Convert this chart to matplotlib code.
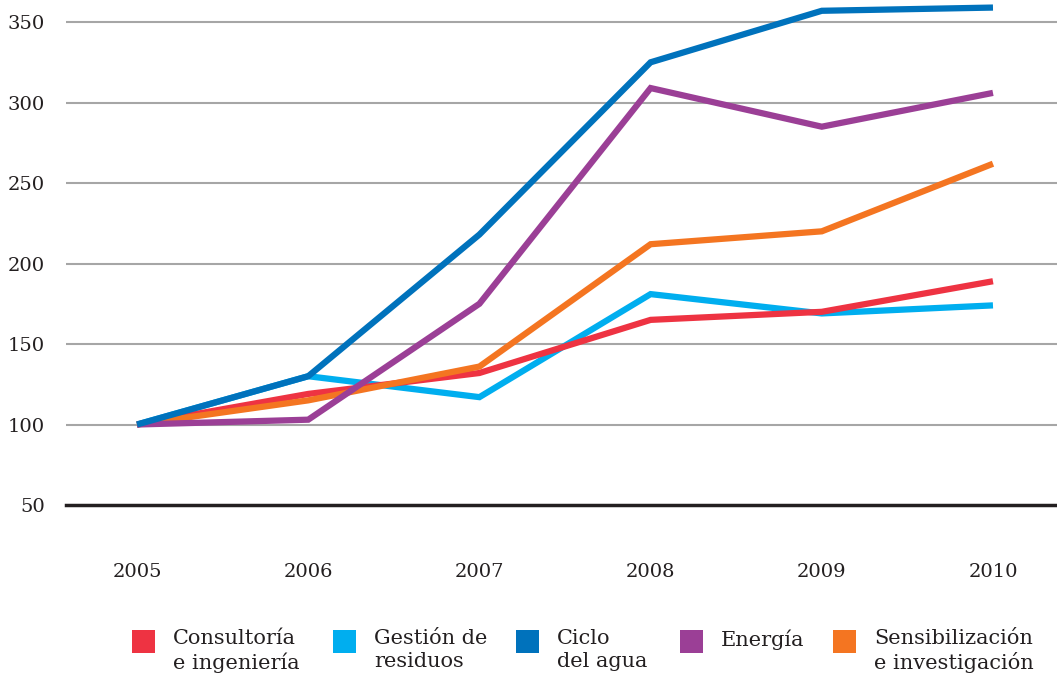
import matplotlib.pyplot as plt
from matplotlib.patches import Rectangle

plt.rcParams['font.family'] = ['DejaVu Serif']

years = [2005, 2006, 2007, 2008, 2009, 2010]
consultoria = [100, 119, 132, 165, 170, 189]
gestion = [100, 130, 117, 181, 169, 174]
ciclo = [100, 130, 218, 325, 357, 359]
energia = [100, 103, 175, 309, 285, 306]
sensibilizacion = [100, 115, 136, 212, 220, 262]

labels = ['Consultoría\ne ingeniería', 'Gestión de\nresiduos', 'Ciclo\ndel agua',
          'Energía', 'Sensibilización\ne investigación']
colors = ['#ee3342', '#00aeef', '#0072bc', '#9b3f96', '#f47521']
series = [consultoria, gestion, ciclo, energia, sensibilizacion]
# drawing order: light ones first, main blue on top
order = [1, 0, 4, 3, 2]

W, H = 1057, 679
fig = plt.figure(figsize=(W / 100, H / 100), dpi=100)
ax = fig.add_axes([66 / W, (H - 505) / H, 1 - 66 / W, 505 / H])

for yv in range(100, 351, 50):
    ax.axhline(yv, color='#a6a6a6', lw=1.5, zorder=1)
ax.axhline(50, color='#231f20', lw=2.5, zorder=1, clip_on=False)

for i in order:
    ax.plot(years, series[i], color=colors[i], lw=4.5, solid_capstyle='butt',
            solid_joinstyle='miter', zorder=3, clip_on=False)

ax.set_xlim(2004.585, 2010.374)
ax.set_ylim(50, 363.7)
ax.set_xticks(years)
ax.set_yticks(range(50, 351, 50))
ax.tick_params(length=0, labelsize=14, colors='#231f20')
ax.tick_params(axis='y', pad=15)
ax.tick_params(axis='x', pad=42)
for s in ax.spines.values():
    s.set_visible(False)

# legend row
xs = [132, 333, 516, 680, 833]
for x, c, lab in zip(xs, colors, labels):
    fig.add_artist(Rectangle((x / W, (H - 653) / H), 23 / W, 23 / H,
                             transform=fig.transFigure, color=c, lw=0))
    fig.text((x + 41) / W, (H - 629) / H, lab, ha='left', va='top',
             fontsize=15, color='#231f20', linespacing=1.25)

fig.savefig('out.png', dpi=100)
